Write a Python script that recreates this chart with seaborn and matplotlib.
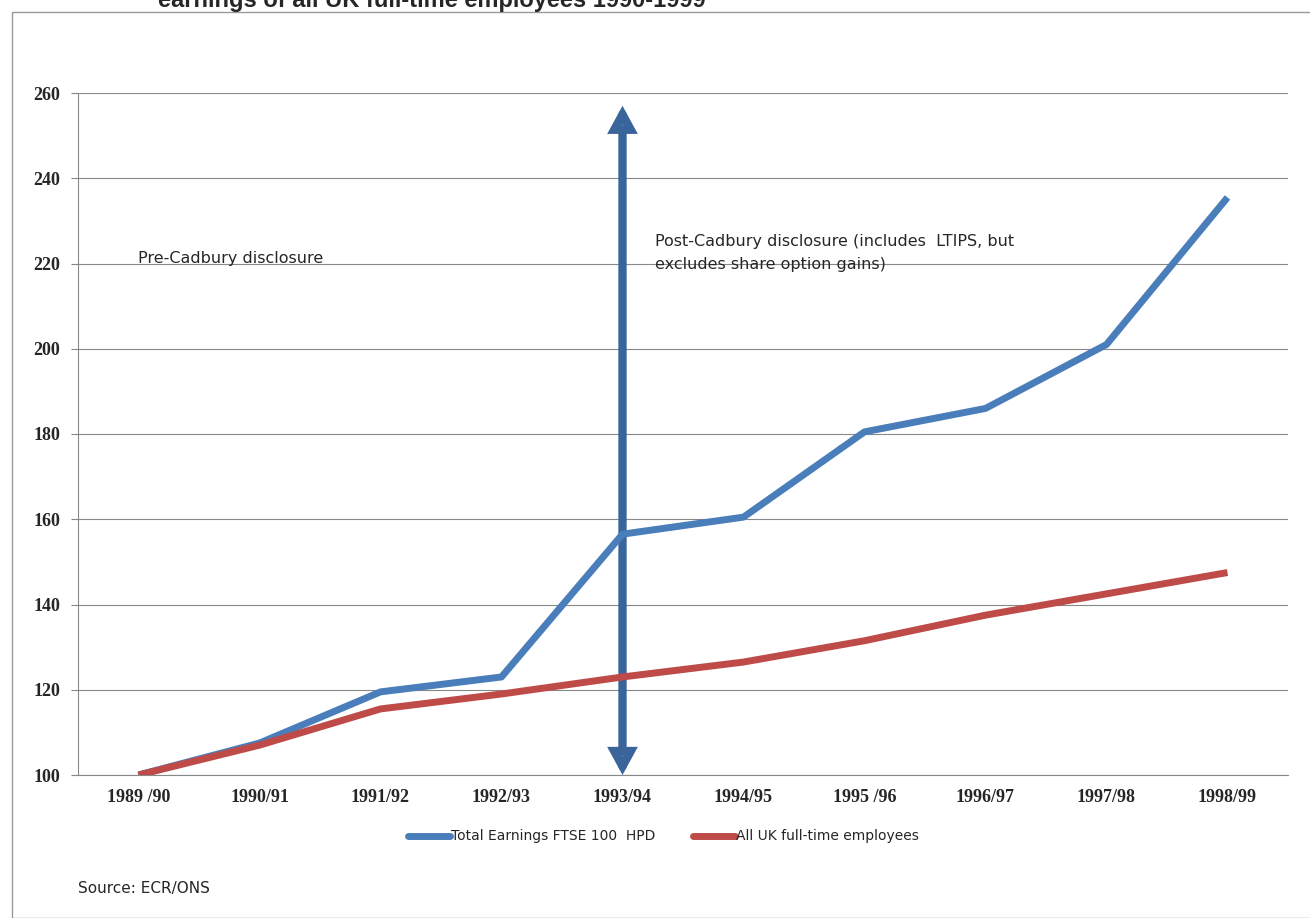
import matplotlib
matplotlib.use("Agg")
import matplotlib.pyplot as plt
import seaborn as sns
import pandas as pd
from matplotlib.patches import Rectangle, FancyArrowPatch

years = ['1989 /90', '1990/91', '1991/92', '1992/93', '1993/94',
         '1994/95', '1995 /96', '1996/97', '1997/98', '1998/99']
ftse = [100, 107.5, 119.5, 123, 156.5, 160.5, 180.5, 186, 201, 235.5]
uk_staff = [100, 107, 115.5, 119, 123, 126.5, 131.5, 137.5, 142.5, 147.5]

df = pd.DataFrame({'x': list(range(len(years))) * 2,
                   'value': ftse + uk_staff,
                   'series': ['Total Earnings FTSE 100  HPD'] * len(years)
                             + ['All UK full-time employees'] * len(years)})

sns.set_style('white')
plt.rcParams['font.family'] = ['DejaVu Sans']

fig = plt.figure(figsize=(13.1, 9.18), dpi=100)
fig.patches.append(Rectangle((12 / 1310, 0), 1, 1 - 12 / 918, transform=fig.transFigure,
                             fill=False, edgecolor='#999999', lw=1))
# title is cut by the top edge in the source image
fig.text(0.33, 1.0, 'earnings of all UK full-time employees 1990-1999',
         ha='center', va='center', fontsize=17, fontweight='bold', family='Liberation Sans')

ax = fig.add_axes([78 / 1310, 1 - 775 / 918, 1210 / 1310, 682 / 918])
sns.lineplot(data=df, x='x', y='value', hue='series',
             palette=['#4a7ebb', '#be4b48'], linewidth=5, ax=ax, legend=False)
for ln in ax.lines:
    ln.set_solid_capstyle('butt')

ax.set_xlim(-0.5, 9.5)
ax.set_ylim(100, 260)
ax.set_yticks(range(100, 261, 20))
ax.set_xticks(range(len(years)))
ax.set_xticklabels(years)
ax.set_xticks([i + 0.5 for i in range(-1, 10)], minor=True)
ax.tick_params(axis='x', which='major', length=0, pad=10)
ax.tick_params(axis='x', which='minor', length=5, color='#888888', direction='out')
ax.tick_params(axis='y', length=5, color='#888888', direction='out', left=True, pad=8)
ax.tick_params(labelsize=13)
for lab in ax.get_xticklabels() + ax.get_yticklabels():
    lab.set_fontweight('bold')
    lab.set_family('Liberation Serif')
ax.grid(axis='y', color='#888888', lw=0.8)
for s in ['top', 'right']:
    ax.spines[s].set_visible(False)
ax.spines['left'].set_color('#888888')
ax.spines['bottom'].set_color('#888888')
ax.set_xlabel('')
ax.set_ylabel('')

arrow = FancyArrowPatch((4, 100), (4, 257),
                        arrowstyle='<|-|>,head_length=0.55,head_width=0.3',
                        mutation_scale=20, lw=6, fc='#4a7ebb', ec='#3a659a',
                        shrinkA=0, shrinkB=0, joinstyle='miter')
ax.add_patch(arrow)

ax.text(0.0, 220, 'Pre-Cadbury disclosure', fontsize=11.5)
ax.text(4.27, 222.5, 'Post-Cadbury disclosure (includes  LTIPS, but\nexcludes share option gains)',
        fontsize=11.5, va='center', linespacing=1.7)

fig.lines.append(plt.Line2D([408 / 1310, 450 / 1310], [1 - 836 / 918] * 2, transform=fig.transFigure,
                            color='#4a7ebb', lw=5))
fig.text(451 / 1310, 1 - 836 / 918, 'Total Earnings FTSE 100  HPD', fontsize=10, va='center')
fig.lines.append(plt.Line2D([693 / 1310, 735 / 1310], [1 - 836 / 918] * 2, transform=fig.transFigure,
                            color='#be4b48', lw=5))
fig.text(736 / 1310, 1 - 836 / 918, 'All UK full-time employees', fontsize=10, va='center')
fig.text(78 / 1310, 1 - 888 / 918, 'Source: ECR/ONS', fontsize=11, va='center')

fig.savefig('out.png', dpi=100)
